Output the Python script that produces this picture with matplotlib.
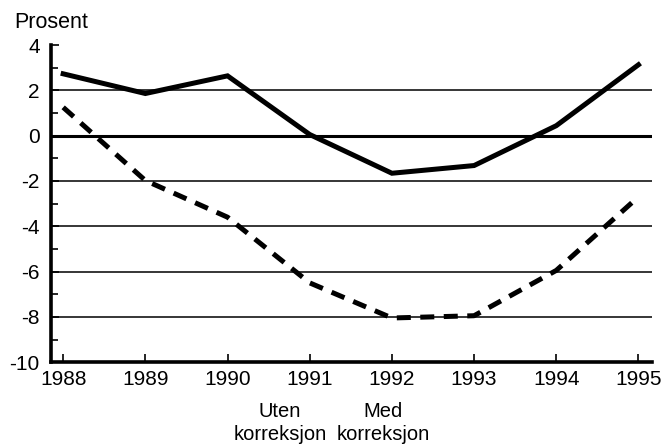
import numpy as np
import matplotlib.pyplot as plt

plt.rcParams['font.family'] = ['Liberation Sans', 'DejaVu Sans']
plt.rcParams['axes.unicode_minus'] = False

years = [1988, 1989, 1990, 1991, 1992, 1993, 1994, 1995]
solid_vals = [2.73, 1.86, 2.64, 0.05, -1.66, -1.32, 0.44, 3.13]
dashed_vals = [1.25, -1.98, -3.6, -6.5, -8.05, -7.95, -5.95, -2.7]
y_ticks = [4, 2, 0, -2, -4, -6, -8, -10]
grid_levels = [2, -2, -4, -6, -8]
notes = ["Uten\nkorreksjon", "Med\nkorreksjon"]
note_x = [1990.64, 1991.89]

fig = plt.figure(figsize=(6.69, 4.46), dpi=100)
ax = fig.add_axes([0.076, 0.188, 0.898, 0.711])

for g in grid_levels:
    ax.axhline(g, color='black', lw=1.1, zorder=1)
ax.axhline(0, color='black', lw=2.2, zorder=1)

ax.plot(years, solid_vals, color='black', lw=3.6, solid_joinstyle='miter', zorder=3)
ax.plot(years, dashed_vals, color='black', lw=3.6, dashes=(2.8, 1.9), zorder=3)

ax.set_xlim(1987.85, 1995.16)
ax.set_ylim(-10, 4)
ax.set_xticks(years)
ax.set_yticks(y_ticks)
ax.set_yticks(np.arange(-9, 4, 2), minor=True)
ax.tick_params(axis='both', direction='in', length=6, width=1.2, labelsize=15)
ax.tick_params(axis='y', which='minor', direction='in', length=5, width=1.2)
ax.tick_params(axis='x', pad=6)
ax.tick_params(axis='y', pad=8)

for s in ['top', 'right']:
    ax.spines[s].set_visible(False)
for s in ['left', 'bottom']:
    ax.spines[s].set_linewidth(2.6)

fig.text(0.022, 0.937, "Prosent", fontsize=15.5, ha='left', va='baseline')

for label, xv in zip(notes, note_x):
    ax.text(xv, -11.75, label, ha='center', va='top', fontsize=14.5,
            linespacing=1.28, clip_on=False)

fig.savefig('out.png', dpi=100)
